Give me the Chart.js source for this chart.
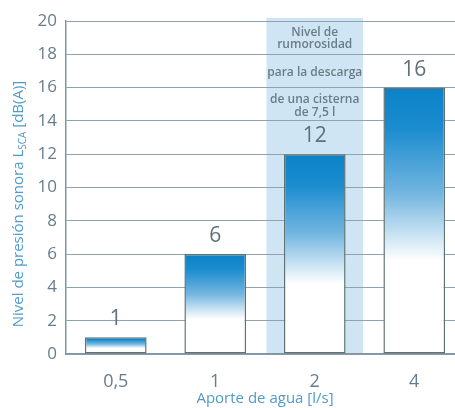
<!DOCTYPE html>
<html>
<head>
<meta charset="utf-8">
<script src="https://cdn.jsdelivr.net/npm/chart.js@4/dist/chart.umd.min.js"></script>
<style>
  html, body { margin: 0; padding: 0; background: #fff; overflow: hidden; }
  #wrap { width: 466px; height: 408px; }
</style>
</head>
<body>
<div id="wrap"><canvas id="chart" width="466" height="408"></canvas></div>
<script>
// datos del gráfico
const categories = ['0,5', '1', '2', '4'];
const levels = [1, 6, 12, 16];
const yTicks = [0, 2, 4, 6, 8, 10, 12, 14, 16, 18, 20];
const highlightIndex = 2;
const highlightText = ['Nivel de', 'rumorosidad', 'para la descarga', 'de una cisterna', 'de 7,5 l'];

const FONT = "'Open Sans', 'Noto Sans', sans-serif";
const TICK_COLOR = '#687c8c';
const TITLE_COLOR = '#4f9bcb';

// degradado azul -> blanco por barra
function barGradient(context) {
    const chart = context.chart;
    if (!chart.chartArea) return '#ffffff';
    const y = chart.scales.y;
    const top = y.getPixelForValue(levels[context.dataIndex]);
    const base = y.getPixelForValue(0);
    const g = chart.ctx.createLinearGradient(0, top, 0, base);
    g.addColorStop(0, '#0b82c8');
    g.addColorStop(0.15, '#1a8ccf');
    g.addColorStop(0.4, '#74b6e0');
    g.addColorStop(0.65, '#ffffff');
    g.addColorStop(1, '#ffffff');
    return g;
}

// banda de fondo con texto
const bandPlugin = {
    id: 'band',
    beforeDraw(chart) {
        const { ctx, scales: { x, y } } = chart;
        const cx = x.getPixelForValue(highlightIndex);
        const half = (x.width / categories.length) * 0.485;
        const top = y.getPixelForValue(20) - 3;
        const bottom = y.getPixelForValue(0);
        ctx.save();
        ctx.fillStyle = '#cfe5f4';
        ctx.fillRect(cx - half, top, half * 2, bottom - top);
        ctx.fillStyle = '#6a7d86';
        ctx.font = '600 12px ' + FONT;
        ctx.textAlign = 'center';
        ctx.textBaseline = 'middle';
        const ys = [33, 45, 73, 100, 113];
        highlightText.forEach((t, i) => ctx.fillText(t, cx, ys[i]));
        ctx.restore();
    }
};

// etiquetas de valor y título del eje Y con subíndice
const labelPlugin = {
    id: 'labels',
    afterDatasetsDraw(chart) {
        const { ctx } = chart;
        const meta = chart.getDatasetMeta(0);
        ctx.save();
        ctx.fillStyle = '#5e707b';
        ctx.font = '21px ' + FONT;
        ctx.textAlign = 'center';
        ctx.textBaseline = 'middle';
        meta.data.forEach((bar, i) => {
            ctx.fillText(String(levels[i]), bar.x, bar.y - 18);
        });
        ctx.restore();
    },
    afterDraw(chart) {
        const { ctx } = chart;
        const p1 = 'Nivel de presión sonora L';
        const sub = 'SCA';
        const p2 = ' [dB(A)]';
        ctx.save();
        ctx.translate(19, 204);
        ctx.rotate(-Math.PI / 2);
        ctx.fillStyle = TITLE_COLOR;
        ctx.textBaseline = 'middle';
        ctx.textAlign = 'left';
        ctx.font = '15px ' + FONT;
        const w1 = ctx.measureText(p1).width;
        const w3 = ctx.measureText(p2).width;
        ctx.font = '10px ' + FONT;
        const w2 = ctx.measureText(sub).width;
        let sx = -(w1 + w2 + w3) / 2;
        ctx.font = '15px ' + FONT;
        ctx.fillText(p1, sx, 0);
        sx += w1;
        ctx.font = '10px ' + FONT;
        ctx.fillText(sub, sx, 4);
        sx += w2;
        ctx.font = '15px ' + FONT;
        ctx.fillText(p2, sx, 0);
        ctx.restore();
    }
};

new Chart(document.getElementById('chart').getContext('2d'), {
    type: 'bar',
    data: {
        labels: categories,
        datasets: [{
            data: levels,
            backgroundColor: barGradient,
            borderColor: '#5f7472',
            borderWidth: 1.5,
            borderSkipped: false,
            barPercentage: 0.62,
            categoryPercentage: 1
        }]
    },
    options: {
        responsive: false,
        animation: false,
        devicePixelRatio: 1,
        layout: { padding: { top: 21, right: 2, left: 0, bottom: 0 } },
        plugins: {
            legend: { display: false },
            tooltip: { enabled: false }
        },
        scales: {
            x: {
                grid: { display: false },
                border: { color: '#7f95a5', width: 1.5 },
                ticks: {
                    color: TICK_COLOR,
                    font: { family: FONT, size: 18 },
                    padding: 9
                },
                title: {
                    display: true,
                    text: 'Aporte de agua [l/s]',
                    color: TITLE_COLOR,
                    font: { family: FONT, size: 15 },
                    padding: { top: 0, bottom: 0 }
                },
                afterFit(scale) { scale.height = 54; }
            },
            y: {
                min: 0,
                max: 20,
                afterBuildTicks(scale) {
                    scale.ticks = yTicks.map(v => ({ value: v }));
                },
                grid: {
                    color: '#8ea2b2',
                    lineWidth: 1,
                    drawTicks: false
                },
                border: { color: '#7f95a5', width: 1.5 },
                ticks: {
                    color: TICK_COLOR,
                    font: { family: FONT, size: 17 },
                    padding: 9
                },
                afterFit(scale) { scale.width = 66; }
            }
        }
    },
    plugins: [bandPlugin, labelPlugin]
});
</script>
</body>
</html>
